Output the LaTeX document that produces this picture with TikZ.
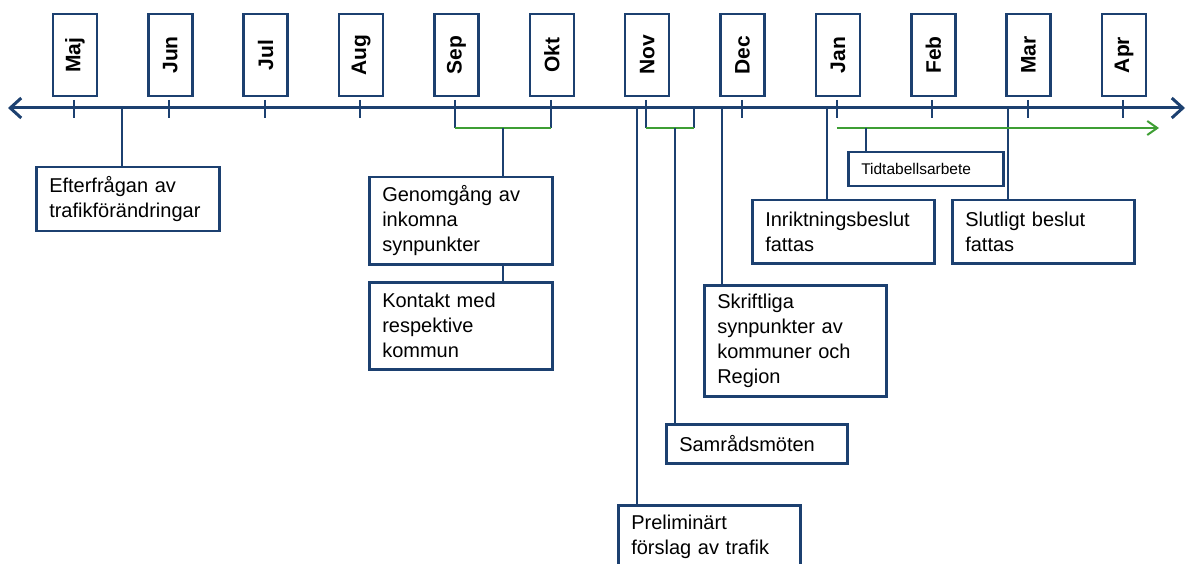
\documentclass[tikz,border=0pt]{standalone}
\usepackage{fontspec}
\setmainfont{Liberation Sans}
\usetikzlibrary{arrows.meta}
\definecolor{tlblue}{RGB}{28,64,112}
\definecolor{tlgreen}{RGB}{62,158,52}

\begin{document}
\begin{tikzpicture}[x=1pt, y=-1pt,
    month/.style = {draw=tlblue, line width=2.5pt, rotate=90, minimum width=82pt, minimum height=44pt, inner sep=0pt, font=\fontsize{21}{25}\selectfont\bfseries},
    event/.style 2 args = {draw=tlblue, line width=2.5pt, fill=white, anchor=north west, align=left, inner xsep=13pt, inner ysep=0pt, text width=#1, minimum height=#2, font=\fontsize{20}{25}\selectfont},
    link/.style = {draw=tlblue, line width=2pt},
    span/.style = {draw=tlgreen, line width=2pt}]
    \useasboundingbox (0,0) rectangle (1186,564);

    % tidslinje med manader
    \coordinate (axl) at (8,108);
    \coordinate (axr) at (1185,108);
    \draw[tlblue, line width=3pt, {Straight Barb[length=11pt,width=20pt]}-{Straight Barb[length=11pt,width=20pt]}] (axl) -- (axr);
    \foreach \m [count=\i] in {Maj,Jun,Jul,Aug,Sep,Okt,Nov,Dec,Jan,Feb,Mar,Apr} {
        \coordinate (t\i) at ({74+95.36*(\i-1)},108);
        \node[month] (m\i) at ({75+95.36*(\i-1)},55) {\m};
        \draw[link] (t\i) ++(0,-8) -- ++(0,18);
    }

    % handelser
    \node[event={157pt}{64pt}] (efter) at (35,166) {Efterfrågan av\\trafikförändringar};
    \node[event={157pt}{87pt}] (genom) at (368,176) {Genomgång av\\inkomna\\synpunkter};
    \node[event={157pt}{87pt}] (kontakt) at (368,281) {Kontakt med\\respektive\\kommun};
    \node[event={156pt}{64pt}] (prelim) at (617,504) {Preliminärt\\förslag av trafik};
    \node[event={155pt}{39pt}] (samrad) at (665,423) {Samrådsmöten};
    \node[event={156pt}{111pt}] (skrift) at (703,284) {Skriftliga\\synpunkter av\\kommuner och\\Region};
    \node[event={156pt}{63pt}] (inrikt) at (751,199) {Inriktningsbeslut\\fattas};
    \node[event={156pt}{63pt}] (slut) at (951,199) {Slutligt beslut\\fattas};
    \node[event={129pt}{34pt}, font=\fontsize{15.5}{18}\selectfont] (tidtab) at (847,151) {Tidtabellsarbete};

    % kopplingar
    \coordinate (efter0) at (122,108);
    \draw[link] (efter0) -- (efter0 |- efter.north);

    \draw[link] (t5) -- ++(0,20) coordinate (sep1);
    \draw[link] (t6) -- ++(0,20) coordinate (okt1);
    \draw[span] (sep1) -- coordinate (sepmid) (okt1);
    \draw[link] (sepmid) -- (sepmid |- genom.north);
    \draw[link] (sepmid |- genom.south) -- (sepmid |- kontakt.north);

    \coordinate (prelim0) at (637,108);
    \draw[link] (prelim0) -- (prelim0 |- prelim.north);

    \coordinate (novend) at (694,108);
    \draw[link] (t7) -- ++(0,20) coordinate (nov1);
    \draw[link] (novend) -- ++(0,20) coordinate (nov2);
    \draw[span] (nov1) -- coordinate[pos=0.6] (novmid) (nov2);
    \draw[link] (novmid) -- (novmid |- samrad.north);

    \coordinate (skrift0) at (722,108);
    \draw[link] (skrift0) -- (skrift0 |- skrift.north);
    \coordinate (inrikt0) at (827,108);
    \draw[link] (inrikt0) -- (inrikt0 |- inrikt.north);
    \coordinate (slut0) at (1008,108);
    \draw[link] (slut0) -- (slut0 |- slut.north);

    \coordinate (tidend) at (1159,128);
    \draw[span, -{Straight Barb[length=10pt,width=14pt]}] (t9 |- tidend) -- (tidend);
    \coordinate (tid0) at (866,128);
    \draw[link] (tid0) -- (tid0 |- tidtab.north);
\end{tikzpicture}
\end{document}
